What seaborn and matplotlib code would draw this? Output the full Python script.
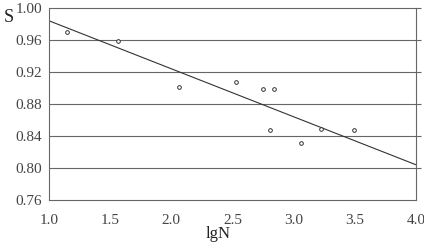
import matplotlib
matplotlib.use("Agg")
import matplotlib.pyplot as plt
import seaborn as sns
import pandas as pd

# Measured points (lgN, S)
lgN = [1.15, 1.56, 2.06, 2.53, 2.75, 2.84, 2.81, 3.06, 3.22, 3.49]
S = [0.970, 0.959, 0.901, 0.908, 0.899, 0.899, 0.848, 0.831, 0.849, 0.848]

# Fitted line end points
fit_x = [1.0, 4.0]
fit_y = [0.984, 0.804]

x_ticks = [1.0, 1.5, 2.0, 2.5, 3.0, 3.5, 4.0]
y_ticks = [0.76, 0.80, 0.84, 0.88, 0.92, 0.96, 1.00]

df = pd.DataFrame({"lgN": lgN, "S": S})
fit = pd.DataFrame({"lgN": fit_x, "S": fit_y})

sns.set_theme(style="white")
plt.rcParams["font.family"] = ["Liberation Serif", "DejaVu Serif"]

fig = plt.figure(figsize=(4.24, 2.45), dpi=100)
ax = fig.add_axes([0.1156, 0.1837, 0.8656, 0.7837])

# grid lines, running a little past the right spine
ax.hlines(y_ticks[1:], 1.0, 4.04, colors="#666666", lw=0.8, clip_on=False, zorder=1)

sns.lineplot(data=fit, x="lgN", y="S", ax=ax, color="#333333", lw=0.8, zorder=2)
sns.scatterplot(data=df, x="lgN", y="S", ax=ax, marker="o", s=7,
                facecolor="white", edgecolor="#333333", linewidth=0.7, zorder=3)

ax.set_xlim(1.0, 4.0)
ax.set_ylim(0.76, 1.00)
ax.set_xticks(x_ticks)
ax.set_xticklabels([f"{v:.1f}" for v in x_ticks])
ax.set_xticks([1.25, 1.75, 2.25, 2.75, 3.25, 3.75], minor=True)
ax.set_yticks(y_ticks)
ax.set_yticklabels([f"{v:.2f}" for v in y_ticks])

ax.tick_params(axis="x", which="both", direction="in", length=4, width=0.8,
               color="#666666", labelsize=11, labelcolor="#444444", pad=10)
ax.tick_params(axis="y", direction="out", length=3, width=0.8,
               color="#666666", labelsize=11, labelcolor="#444444", pad=2)

for side in ["left", "bottom", "right"]:
    ax.spines[side].set_color("#666666")
    ax.spines[side].set_linewidth(0.8)
ax.spines["top"].set_visible(False)

ax.set_xlabel("")
ax.set_ylabel("")
fig.text(0.02, 0.927, "S", fontsize=13, color="#222222", ha="center", va="center")
fig.text(0.514, 0.045, "lgN", fontsize=12, color="#222222", ha="center", va="center")

fig.savefig("out.png", dpi=100)
